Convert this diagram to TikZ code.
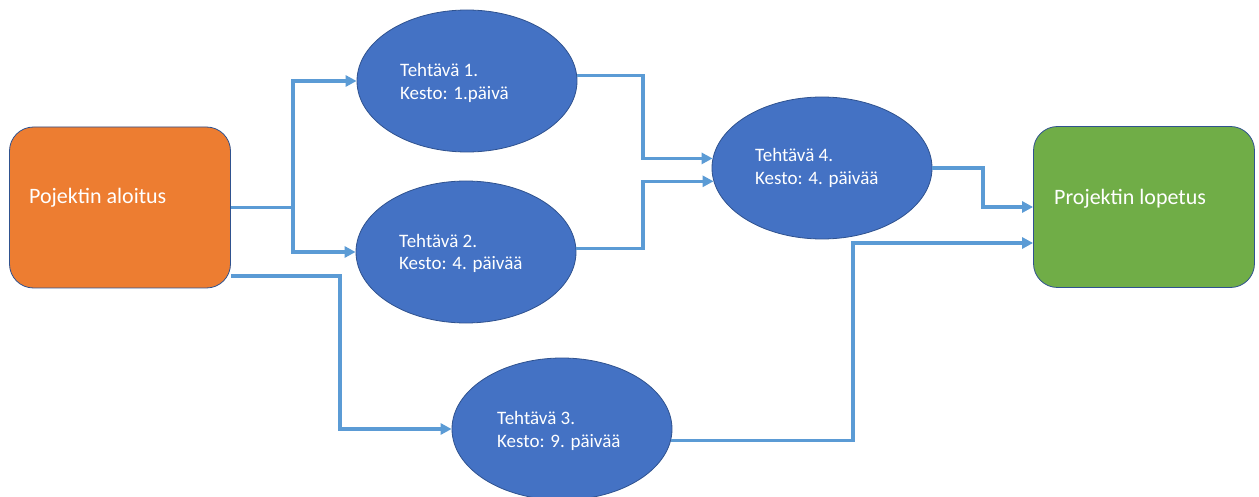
\documentclass[tikz,border=0pt]{standalone}
\usepackage{fontspec}
\setmainfont{Carlito}
\usetikzlibrary{arrows.meta,shapes.geometric,calc}
\definecolor{taskblue}{HTML}{4472C4}
\definecolor{edgeblue}{HTML}{2F528F}
\definecolor{linkblue}{HTML}{5B9BD5}
\definecolor{startorange}{HTML}{ED7D31}
\definecolor{endgreen}{HTML}{70AD47}

\begin{document}
\begin{tikzpicture}[x=1pt,y=-1pt,
  task/.style={ellipse, draw=edgeblue, line width=0.8pt, fill=taskblue,
    minimum width=220pt, minimum height=142pt, inner sep=0pt},
  tasktext/.style={text=white, font=\fontsize{19}{23}\selectfont,
    align=left, inner sep=0pt, anchor=base west},
  phase/.style={rounded corners=24pt, draw=edgeblue, line width=0.8pt,
    minimum width=221pt, minimum height=161pt, inner sep=0pt},
  phasetext/.style={text=white, font=\fontsize{22}{26}\selectfont,
    inner sep=0pt, anchor=base west},
  link/.style={draw=linkblue, line width=3.3pt,
    -{Triangle[length=11pt,width=11pt]}},
]
\fill[white] (0,0) rectangle (1259,497);
\useasboundingbox (0,0) rectangle (1259,497);

% start and end of the project
\node[phase, fill=startorange] (start) at (120,207.5) {};
\node[phasetext] (startlabel) at (29,204) {Pojektin aloitus};
\node[phase, fill=endgreen] (end) at (1144,207) {};
\node[phasetext] (endlabel) at (1054,205) {Projektin lopetus};

% tasks
\node[task] (E1) at (467,81) {};
\node[task] (E2) at (466,252) {};
\node[task] (E4) at (822,168) {};
\node[task] (E3) at (562,429) {};

% two-line labels, anchored on the baseline of their second line
\node[tasktext] (T1) at ($(E1.center)+(-67,19)$) {Tehtävä 1.\\Kesto: 1.päivä};
\node[tasktext] (T2) at ($(E2.center)+(-67,18)$) {Tehtävä 2.\\Kesto: 4. päivää};
\node[tasktext] (T4) at ($(E4.center)+(-67,17)$) {Tehtävä 4.\\Kesto: 4. päivää};
\node[tasktext] (T3) at ($(E3.center)+(-65,18)$) {Tehtävä 3.\\Kesto: 9. päivää};

% routing columns for the elbow connectors
\coordinate (j1) at (293,0);
\coordinate (j2) at (340,0);
\coordinate (j3) at (643,0);
\coordinate (j4) at (983,0);
\coordinate (j5) at (853,0);
\coordinate (s3) at ([yshift=-68.5pt]start.east);
\coordinate (e2) at ([yshift=-36pt]end.west);

% connectors
\draw[link] (start.east) -- (start.east -| j1) |- (E1.west);
\draw[link] (start.east) -- (start.east -| j1) |- (E2.west);
\draw[link] (s3) -- (s3 -| j2) |- (E3.west);
\draw[link] (E1.3) -- (E1.3 -| j3) |- (E4.175);
\draw[link] (E2.2) -- (E2.2 -| j3) |- (E4.187);
\draw[link] (E4.east) -- (E4.east -| j4) |- (end.west);
\draw[link] (E3.-6) -- (E3.-6 -| j5) |- (e2);
\end{tikzpicture}
\end{document}
